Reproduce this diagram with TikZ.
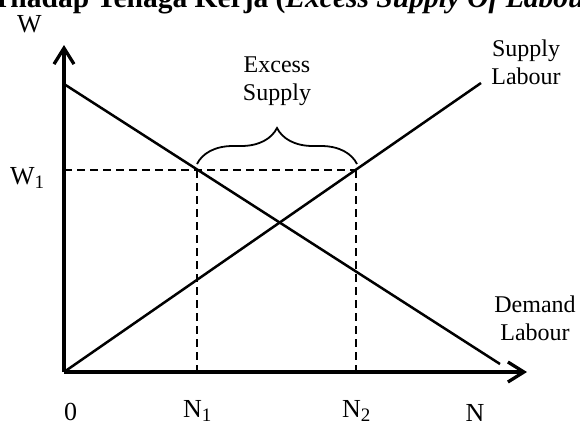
\documentclass[tikz,border=0pt]{standalone}
\usepackage{fontspec}
\setmainfont{Liberation Serif}
\usetikzlibrary{arrows.meta,decorations.pathreplacing}
\newcommand{\mysub}[1]{\raisebox{-4pt}{\fontsize{19}{19}\selectfont #1}}
\begin{document}
\begin{tikzpicture}[x=1pt,y=-1pt,
  axis/.style={line width=3.3pt,-{Straight Barb[length=16pt,width=20pt]}},
  curve/.style={line width=2.5pt},
  guide/.style={line width=2.5pt,dash pattern=on 8pt off 5pt},
  lbl/.style={font=\fontsize{24}{28}\selectfont,align=center,inner sep=0pt},
  axlbl/.style={font=\fontsize{26}{30}\selectfont,inner sep=0pt},
  bracestyle/.style={line width=1.8pt,decorate,decoration={brace,amplitude=36pt}},
  ]
\useasboundingbox (0,0) rectangle (580,424);
% title (cut at the top edge, as in the reference)
\node[anchor=base west,inner sep=0pt,font=\fontsize{29.5}{33}\selectfont\bfseries] (title) at (-32.9,7)
  {Terhadap Tenaga Kerja (\textit{Excess Supply Of Labour})};
% key points
\coordinate (O) at (64,372);
\coordinate (Ytip) at (64,45);
\coordinate (Xtip) at (527,372);
\coordinate (S1) at (481,83);
\coordinate (D0) at (64,84);
\coordinate (D1) at (500,364);
\coordinate (W1a) at (64,170);
\coordinate (P1) at (197,170);
\coordinate (P2) at (356,170);
\coordinate (N1a) at (197,372);
\coordinate (N2a) at (356,372);
\coordinate (BL) at (197,164);
\coordinate (BR) at (357,164);
% dashed guides
\draw[guide] (W1a) -- (P2);
\draw[guide] (P1) -- (N1a);
\draw[guide] (P2) -- (N2a);
% curves
\draw[curve] (O) -- (S1);
\draw[curve] (D0) -- (D1);
% axes
\draw[axis] (O) -- (Ytip);
\draw[axis] (O) -- (Xtip);
% brace
\draw[bracestyle] (BL) -- (BR);
% labels
\node[axlbl] (W) at (29.5,24) {W};
\node[axlbl,anchor=base west] (W1) at (10,184) {W\mysub{1}};
\node[axlbl,anchor=base] (zero) at (70.5,420) {0};
\node[axlbl,anchor=base west] (N1) at (183,417) {N\mysub{1}};
\node[axlbl,anchor=base west] (N2) at (342,417) {N\mysub{2}};
\node[axlbl,anchor=base] (N) at (475,421) {N};
\node[lbl] (ex) at (277,81) {Excess\\Supply};
\node[lbl] (sl) at (526,62) {Supply\\Labour};
\node[lbl] (dl) at (535,318) {Demand\\Labour};
\end{tikzpicture}
\end{document}
